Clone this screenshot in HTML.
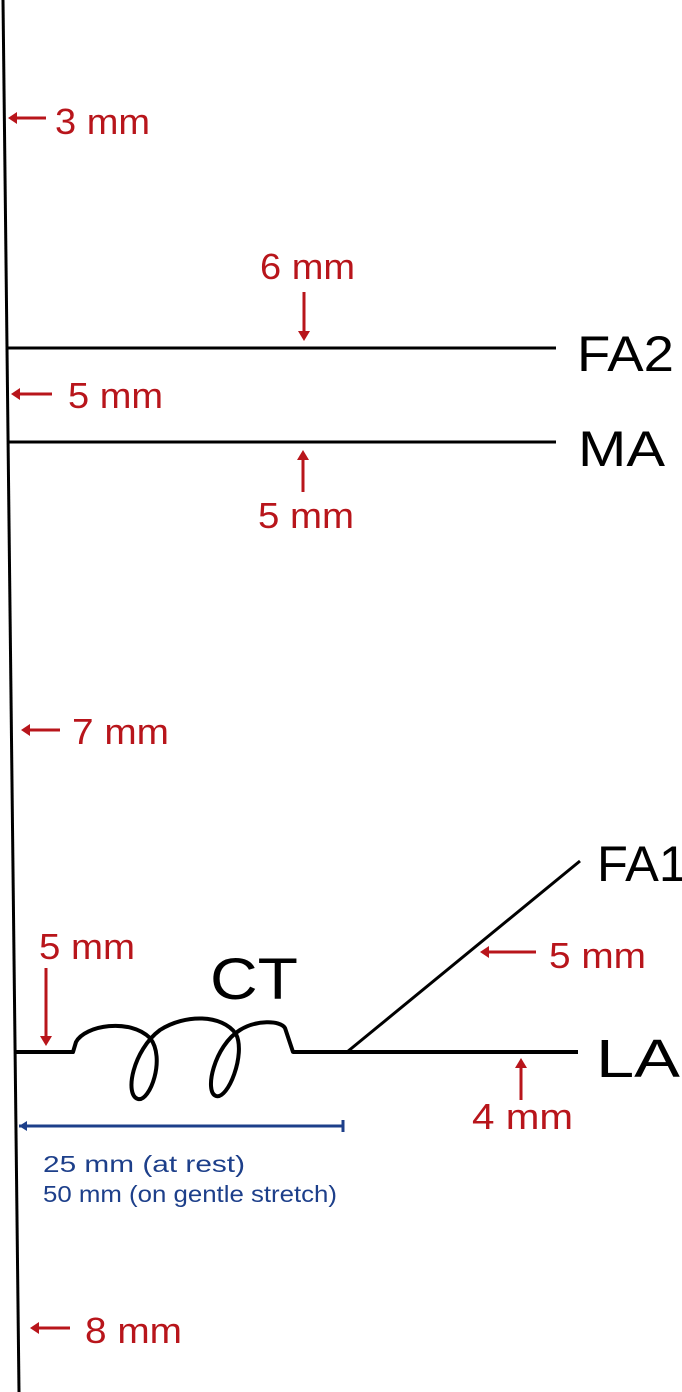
<!DOCTYPE html>
<html><head><meta charset="utf-8"><style>
html,body{margin:0;padding:0;background:#fff;}
svg{display:block;}
text{font-family:"Liberation Sans",sans-serif;}
.r{fill:#b8151b;font-size:36px;}
.k{fill:#000;}
.ar{stroke:#b8151b;stroke-width:3;fill:none;}
.ah{fill:#b8151b;}
</style></head><body>
<svg width="682" height="1392" viewBox="0 0 682 1392">
<line x1="3" y1="0" x2="19" y2="1392" stroke="#000" stroke-width="3"/>
<line x1="7" y1="348" x2="556" y2="348" stroke="#000" stroke-width="3"/>
<line x1="8" y1="442" x2="556" y2="442" stroke="#000" stroke-width="3"/>
<text x="577" y="371" class="k" font-size="50" textLength="97" lengthAdjust="spacingAndGlyphs">FA2</text>
<text x="578" y="466" class="k" font-size="50" textLength="87" lengthAdjust="spacingAndGlyphs">MA</text>
<path d="M15 1052 L73 1052 L76 1042 C85 1025 130 1018 150 1038 C166 1058 150 1102 138 1099 C124 1095 133 1050 160 1030 C185 1014 222 1014 236 1034 C246 1054 228 1100 216 1096 C204 1092 214 1046 240 1030 C256 1020 280 1020 285 1028 L293 1052 L578 1052" stroke="#000" stroke-width="4" fill="none" stroke-linejoin="round"/>
<line x1="347" y1="1052" x2="580" y2="861" stroke="#000" stroke-width="3"/>
<text x="597" y="881" class="k" font-size="50" textLength="90" lengthAdjust="spacingAndGlyphs">FA1</text>
<text x="596" y="1077" class="k" font-size="54" textLength="84" lengthAdjust="spacingAndGlyphs">LA</text>
<text x="210" y="999" class="k" font-size="58" textLength="88" lengthAdjust="spacingAndGlyphs">CT</text>

<g>
<line x1="14" y1="118" x2="46" y2="118" class="ar"/><path d="M8 118 L17 112 L17 124 Z" class="ah"/>
<text x="55" y="134" class="r" textLength="95" lengthAdjust="spacingAndGlyphs">3 mm</text></g>
<g>
<text x="260" y="279" class="r" textLength="95" lengthAdjust="spacingAndGlyphs">6 mm</text>
<line x1="304" y1="292" x2="304" y2="334" class="ar"/><path d="M304 341 L298 331 L310 331 Z" class="ah"/></g>
<g>
<line x1="17" y1="394" x2="52" y2="394" class="ar"/><path d="M11 394 L20 388 L20 400 Z" class="ah"/>
<text x="68" y="408" class="r" textLength="95" lengthAdjust="spacingAndGlyphs">5 mm</text></g>
<g>
<line x1="303" y1="458" x2="303" y2="492" class="ar"/><path d="M303 450 L297 460 L309 460 Z" class="ah"/>
<text x="258" y="528" class="r" textLength="96" lengthAdjust="spacingAndGlyphs">5 mm</text></g>
<g>
<line x1="27" y1="730" x2="60" y2="730" class="ar"/><path d="M21 730 L30 724 L30 736 Z" class="ah"/>
<text x="72" y="744" class="r" textLength="97" lengthAdjust="spacingAndGlyphs">7 mm</text></g>
<g>
<text x="39" y="959" class="r" textLength="96" lengthAdjust="spacingAndGlyphs">5 mm</text>
<line x1="46" y1="968" x2="46" y2="1038" class="ar"/><path d="M46 1046 L40 1036 L52 1036 Z" class="ah"/></g>
<g>
<line x1="486" y1="952" x2="536" y2="952" class="ar"/><path d="M480 952 L489 946 L489 958 Z" class="ah"/>
<text x="549" y="968" class="r" textLength="97" lengthAdjust="spacingAndGlyphs">5 mm</text></g>
<g>
<line x1="521" y1="1066" x2="521" y2="1100" class="ar"/><path d="M521 1058 L515 1068 L527 1068 Z" class="ah"/>
<text x="472" y="1129" class="r" textLength="101" lengthAdjust="spacingAndGlyphs">4 mm</text></g>
<g>
<line x1="19" y1="1126" x2="343" y2="1126" stroke="#1d3f8a" stroke-width="3"/>
<path d="M19 1126 L27 1121 L27 1131 Z" fill="#1d3f8a"/><line x1="343" y1="1120" x2="343" y2="1132" stroke="#1d3f8a" stroke-width="3"/>
<text x="43" y="1172" fill="#1d3f8a" font-size="23" textLength="202" lengthAdjust="spacingAndGlyphs">25 mm (at rest)</text>
<text x="43" y="1202" fill="#1d3f8a" font-size="23" textLength="294" lengthAdjust="spacingAndGlyphs">50 mm (on gentle stretch)</text></g>
<g>
<line x1="36" y1="1328" x2="70" y2="1328" class="ar"/><path d="M30 1328 L39 1322 L39 1334 Z" class="ah"/>
<text x="85" y="1343" class="r" textLength="97" lengthAdjust="spacingAndGlyphs">8 mm</text></g>
</svg>
</body></html>
